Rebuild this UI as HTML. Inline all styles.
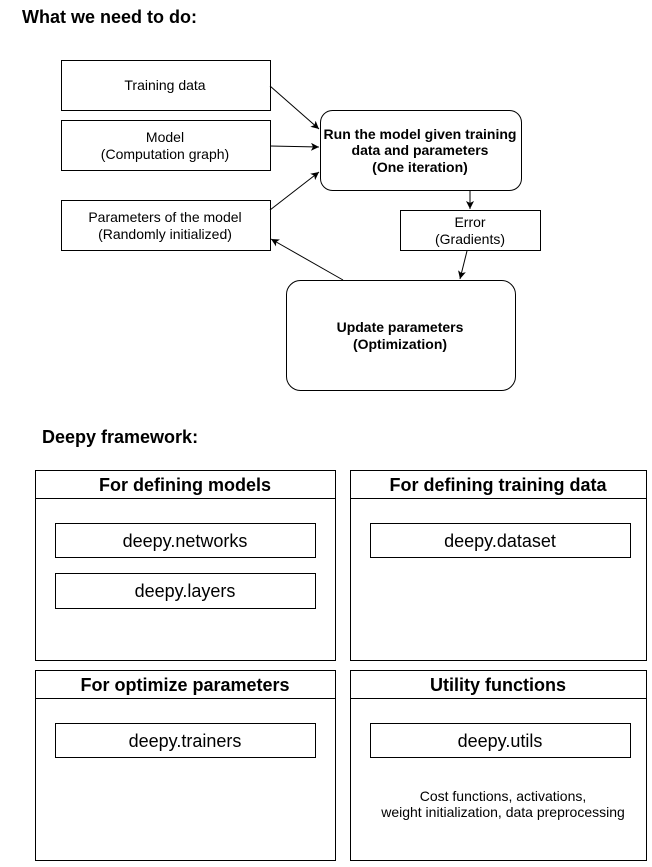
<!DOCTYPE html>
<html><head><style>
body{margin:0;background:#fff;width:652px;height:862px;overflow:hidden}
svg text{font-family:"Liberation Sans",Helvetica,Arial,sans-serif;fill:#000}
</style></head><body>
<svg width="652" height="862" xmlns="http://www.w3.org/2000/svg">
<defs><marker id="a" markerWidth="10" markerHeight="10" refX="8" refY="4" orient="auto" markerUnits="userSpaceOnUse"><path d="M0,0 L8,4 L0,8 L2,4z" fill="#000"/></marker></defs>
<text x="22" y="23" font-size="18" font-weight="bold">What we need to do:</text>
<g fill="#fff" stroke="#000" stroke-width="1">
<rect x="61.5" y="60.5" width="209" height="50"/>
<rect x="61.5" y="120.5" width="209" height="50"/>
<rect x="61.5" y="200.5" width="209" height="50"/>
<rect x="320.5" y="110.5" width="201" height="80" rx="12"/>
<rect x="400.5" y="210.5" width="140" height="40"/>
<rect x="286.5" y="280.5" width="229" height="110" rx="14"/>
</g>
<g stroke="#000" stroke-width="1" fill="none" marker-end="url(#a)">
<line x1="270" y1="86" x2="319" y2="129"/>
<line x1="270" y1="146" x2="319" y2="147"/>
<line x1="270" y1="210" x2="319" y2="172"/>
<line x1="470" y1="191" x2="470" y2="209"/>
<line x1="467" y1="251" x2="460" y2="279"/>
<line x1="343" y1="280" x2="271" y2="239"/>
</g>
<g font-size="14" text-anchor="middle">
<text x="165" y="90">Training data</text>
<text x="165" y="142">Model</text>
<text x="165" y="159">(Computation graph)</text>
<text x="165" y="222">Parameters of the model</text>
<text x="165" y="239">(Randomly initialized)</text>
<text x="470" y="227">Error</text>
<text x="470" y="244">(Gradients)</text>
<g font-weight="bold">
<text x="420" y="139">Run the model given training</text>
<text x="420" y="155">data and parameters</text>
<text x="420" y="172">(One iteration)</text>
<text x="400" y="332">Update parameters</text>
<text x="400" y="349">(Optimization)</text>
</g>
</g>
<text x="42" y="443" font-size="18" font-weight="bold">Deepy framework:</text>
<g fill="none" stroke="#000" stroke-width="1">
<rect x="35.5" y="470.5" width="300" height="190"/><line x1="35" y1="498.5" x2="335" y2="498.5"/>
<rect x="350.5" y="470.5" width="296" height="190"/><line x1="350" y1="498.5" x2="646" y2="498.5"/>
<rect x="35.5" y="670.5" width="300" height="190"/><line x1="35" y1="698.5" x2="335" y2="698.5"/>
<rect x="350.5" y="670.5" width="296" height="190"/><line x1="350" y1="698.5" x2="646" y2="698.5"/>
<rect x="55.5" y="523.5" width="260" height="34"/>
<rect x="55.5" y="573.5" width="260" height="35"/>
<rect x="370.5" y="523.5" width="260" height="34"/>
<rect x="55.5" y="723.5" width="260" height="34"/>
<rect x="370.5" y="723.5" width="260" height="34"/>
</g>
<g text-anchor="middle">
<g font-size="18" font-weight="bold">
<text x="185" y="491">For defining models</text>
<text x="498" y="491">For defining training data</text>
<text x="185" y="691">For optimize parameters</text>
<text x="498" y="691">Utility functions</text>
</g>
<g font-size="18">
<text x="185" y="547">deepy.networks</text>
<text x="185" y="597">deepy.layers</text>
<text x="500" y="547">deepy.dataset</text>
<text x="185" y="747">deepy.trainers</text>
<text x="500" y="747">deepy.utils</text>
</g>
<text x="503" y="801" font-size="14">Cost functions, activations,</text>
<text x="503" y="817" font-size="14">weight initialization, data preprocessing</text>
</g>
</svg>
</body></html>
